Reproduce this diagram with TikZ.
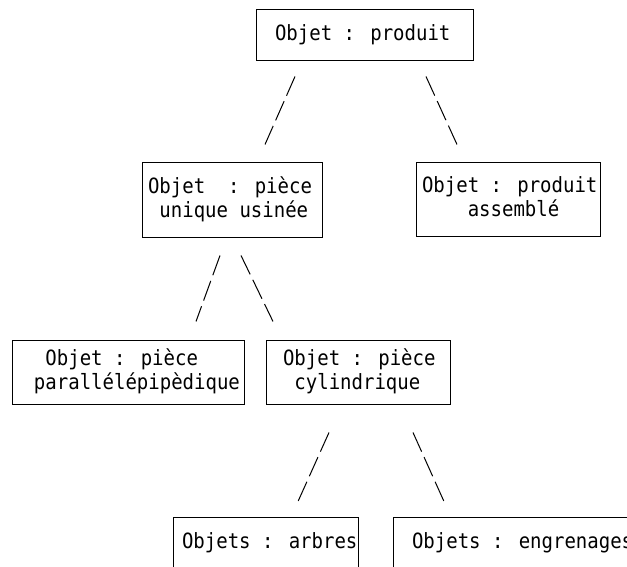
\documentclass[tikz,border=0pt]{standalone}
\usepackage{fontspec}
\newfontfamily\monofam[FakeStretch=0.905]{DejaVu Sans Mono}
\newcommand\bxtxt[3]{\makebox[#1][l]{\hspace{#2}\begin{tabular}{@{}l@{}}#3\end{tabular}}}
\begin{document}
\begin{tikzpicture}[x=1pt,y=1pt,
  box/.style={draw, line width=1pt, inner sep=0pt, font=\monofam\fontsize{21}{24}\selectfont},
  link/.style={line width=1pt, dash pattern=on 21pt off 6pt}]
\useasboundingbox (0,0) rectangle (627,567);
\clip (0,0) rectangle (627,567);
\node[box, minimum height=51pt] (a) at (364.5,531.5) {\bxtxt{217pt}{19pt}{Objet : produit}};
\node[box, minimum height=75pt] (b) at (232,366.5) {\bxtxt{180pt}{6pt}{Objet\ \ : pièce\\\hphantom{x}unique usinée}};
\node[box, minimum height=74pt] (c) at (508,367) {\bxtxt{184pt}{6pt}{Objet : produit\\\hphantom{xxxx}assemblé}};
\node[box, minimum height=64pt] (d) at (128,194) {\bxtxt{232pt}{22pt}{\hphantom{x}Objet : pièce\\parallélépipèdique}};
\node[box, minimum height=64pt] (e) at (358,194) {\bxtxt{184pt}{17pt}{Objet : pièce\\\hphantom{x}cylindrique}};
\node[box, minimum height=51pt] (f) at (265.5,23.5) {\bxtxt{185pt}{9pt}{Objets : arbres}};
\node[box, minimum height=51pt] (g) at (518,23.5) {\bxtxt{250pt}{19pt}{Objets : engrenages}};
\draw[link] ([xshift=-69.5pt,yshift=-15pt]a.south) -- ([xshift=33pt,yshift=18pt]b.north);
\draw[link] ([xshift=61.5pt,yshift=-15pt]a.south) -- ([xshift=-51pt,yshift=18pt]c.north);
\draw[link] ([xshift=-12pt,yshift=-17pt]b.south) -- ([xshift=68pt,yshift=19pt]d.north);
\draw[link] ([xshift=9pt,yshift=-17pt]b.south) -- ([xshift=-85pt,yshift=19pt]e.north);
\draw[link] ([xshift=-29pt,yshift=-27pt]e.south) -- ([xshift=32.5pt,yshift=16pt]f.north);
\draw[link] ([xshift=55pt,yshift=-27pt]e.south) -- ([xshift=-74pt,yshift=16pt]g.north);
\end{tikzpicture}
\end{document}
